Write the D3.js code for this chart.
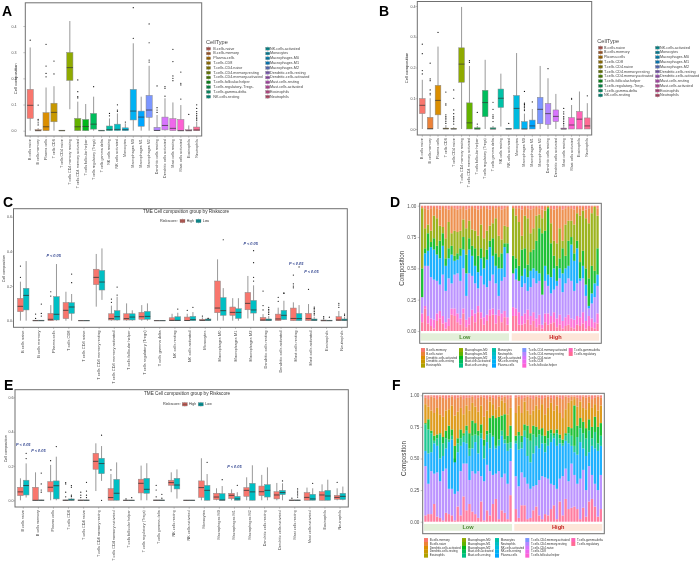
<!DOCTYPE html>
<html><head><meta charset="utf-8">
<script src="https://cdn.jsdelivr.net/npm/d3@7/dist/d3.min.js"></script>
<style>
html,body{margin:0;padding:0;background:#fff}
svg{display:block;filter:blur(0.3px);font-family:"Liberation Sans",Arial,sans-serif}
</style></head><body>
<script>
// ---------- categories ----------
const cells = ["B cells naive","B cells memory","Plasma cells","T cells CD8","T cells CD4 naive","T cells CD4 memory resting","T cells CD4 memory activated","T cells follicular helper","T cells regulatory (Tregs)","T cells gamma delta","NK cells resting","NK cells activated","Monocytes","Macrophages M0","Macrophages M1","Macrophages M2","Dendritic cells resting","Dendritic cells activated","Mast cells resting","Mast cells activated","Eosinophils","Neutrophils"];
const legendDotted = ["B.cells.naive","B.cells.memory","Plasma.cells","T.cells.CD8","T.cells.CD4.naive","T.cells.CD4.memory.resting","T.cells.CD4.memory.activated","T.cells.follicular.helper","T.cells.regulatory..Tregs.","T.cells.gamma.delta","NK.cells.resting","NK.cells.activated","Monocytes","Macrophages.M0","Macrophages.M1","Macrophages.M2","Dendritic.cells.resting","Dendritic.cells.activated","Mast.cells.resting","Mast.cells.activated","Eosinophils","Neutrophils"];
const legendAlpha = ["B.cells.memory","B.cells.naive","Dendritic.cells.activated","Dendritic.cells.resting","Eosinophils","Macrophages.M0","Macrophages.M1","Macrophages.M2","Mast.cells.activated","Mast.cells.resting","Monocytes","Neutrophils","NK.cells.activated","NK.cells.resting","Plasma.cells","T.cells.CD4.memory.activated","T.cells.CD4.memory.resting","T.cells.CD4.naive","T.cells.CD8","T.cells.follicular.helper","T.cells.gamma.delta","T.cells.regulatory"];
const boxTicks = [0,0.1,0.2,0.3,0.4];
const groupTicks = [0,0.2,0.4,0.6];
const stackTicks = [0,0.25,0.5,0.75,1];
const riskGroups = ["High","Low"];

// ---------- box statistics: [low whisker, q1, median, q3, high whisker, outliers] ----------
const statsA = [
[0,.047,.097,.158,.318,[.346]],[0,0,0,.004,.01,[.098,.043,.038,.03,.022]],[0,0,.015,.069,.165,[.33,.247,.219,.206]],[0,.034,.07,.105,.17,[.266,.217]],[0,0,0,.002,.002,[]],
[.082,.192,.241,.299,.419,[]],[0,0,.015,.047,.111,[.194,.149,.13,.125]],[0,0,.016,.043,.102,[]],[0,.006,.025,.066,.13,[.168]],[0,0,0,.002,.002,[]],
[0,0,.004,.018,.047,[.066,.057]],[0,0,.005,.025,.066,[.099,.079,.074]],[0,0,.004,.011,.028,[.033]],[0,.041,.075,.158,.334,[.47,.353]],[0,.017,.052,.075,.13,[]],
[0,.051,.079,.135,.248,[.408,.336,.27,.262]],[0,0,.001,.013,.06,[.171,.088,.079,.07]],[0,.003,.02,.052,.124,[.168,.162,.132]],[0,0,.009,.046,.108,[.311,.264,.209,.2,.191]],[0,0,0,.043,.098,[.224,.181,.175,.121]],
[0,0,0,.004,.02,[.062]],[0,0,.003,.014,.035,[.099,.085,.073,.065,.058,.052,.046,.04]]];
const statsB = [
[0,.05,.077,.099,.16,[.276,.245,.19,.179]],[0,0,.001,.038,.1,[.214,.163,.157,.127,.116,.111]],[0,.046,.093,.142,.268,[.314]],[0,0,.001,.003,.013,[.12,.082,.078,.046,.04,.035,.03,.024,.018]],[0,0,0,.002,.006,[.127,.1,.062,.05,.04,.035,.03,.024,.016]],
[0,.152,.211,.264,.397,[]],[0,0,.02,.085,.205,[.222,.217]],[0,0,0,.004,.01,[.054,.016]],[0,.04,.086,.126,.225,[]],[0,0,0,.004,.01,[.087,.064,.046,.04,.035,.024]],
[.008,.07,.1,.13,.18,[]],[0,0,0,.002,.002,[.018]],[0,0,.067,.109,.247,[]],[0,0,0,.024,.05,[.122,.084,.08,.075,.071,.065,.06]],[0,0,.01,.029,.065,[.088]],
[0,.017,.064,.103,.205,[]],[0,.015,.05,.083,.165,[.196]],[0,.024,.041,.062,.114,[]],[0,0,0,.003,.01,[.067,.056,.049,.04,.035,.03,.024,.018,.013]],[0,0,.013,.037,.078,[.1,.097]],
[0,0,.032,.057,.122,[]],[0,0,.01,.036,.084,[.108]]];
const statsCHigh = [
[0,.052,.083,.129,.225,[.315,.25]],[0,0,0,.003,.004,[.038,.013]],[0,0,.008,.042,.09,[.167,.142]],[0,.012,.06,.105,.167,[]],[0,0,0,.002,.002,[]],
[.081,.208,.25,.297,.385,[]],[0,.004,.012,.04,.087,[.125,.106]],[0,.004,.012,.04,.1,[]],[0,.008,.023,.048,.09,[]],[0,0,0,.002,.002,[]],
[0,0,.002,.017,.04,[]],[0,0,.001,.021,.04,[.06]],[0,0,.002,.008,.019,[.027]],[0,.046,.073,.229,.354,[]],[0,.031,.048,.079,.13,[]],
[.013,.063,.1,.163,.258,[]],[0,0,.004,.019,.038,[.171,.087,.062]],[0,0,.01,.038,.075,[.135,.112]],[0,0,.013,.073,.106,[.263,.213,.2,.19]],[0,0,.012,.042,.096,[.181]],
[0,0,0,.004,.012,[.023,.015]],[0,0,.004,.023,.056,[.1,.09,.077]]];
const statsCLow = [
[0,.062,.146,.187,.344,[]],[0,0,0,.003,.004,[.096,.042,.027]],[0,.004,.037,.139,.327,[]],[0,.042,.079,.104,.154,[.269,.219]],[0,0,0,.002,.002,[]],
[.12,.177,.223,.29,.417,[]],[0,.004,.023,.058,.138,[.194,.148]],[0,.004,.021,.04,.06,[]],[0,.008,.025,.054,.1,[]],[0,0,0,.002,.002,[]],
[0,0,.002,.023,.046,[.067]],[0,0,.006,.025,.05,[.077]],[0,0,.004,.01,.017,[.013]],[0,.031,.058,.133,.188,[.467]],[0,.013,.048,.069,.13,[]],
[0,.044,.062,.117,.204,[.404,.335,.25,.229]],[0,0,.004,.01,.027,[.077,.065,.056,.046,.036]],[.004,.006,.031,.06,.115,[.16,.157]],[0,0,.012,.042,.09,[.31]],[0,0,.004,.01,.023,[.079,.071,.062,.052,.042,.033]],
[0,0,0,.003,.004,[.02]],[0,0,.004,.01,.023,[.038,.031]]];
const statsEHigh = [
[0,.027,.049,.076,.128,[]],[0,0,0,.076,.163,[]],[0,.049,.076,.109,.206,[.231]],[0,0,0,.002,.003,[.103,.095,.047,.02]],[0,0,0,.002,.003,[.047,.03,.016]],
[.054,.181,.227,.274,.332,[]],[0,0,.016,.068,.153,[.177]],[0,0,0,.001,.002,[.008]],[0,.043,.099,.123,.202,[]],[0,0,0,.002,.003,[.087,.06,.02]],
[.047,.087,.103,.117,.163,[]],[0,0,0,.001,.002,[]],[0,.017,.074,.113,.245,[]],[0,.004,.019,.041,.07,[]],[0,.01,.029,.041,.064,[]],
[0,.023,.058,.074,.134,[]],[0,.027,.05,.083,.148,[]],[0,.008,.031,.05,.101,[]],[0,0,0,.002,.003,[.012]],[0,0,.017,.045,.074,[]],
[0,0,.031,.05,.093,[]],[0,.006,.017,.029,.07,[.105]]];
const statsELow = [
[.016,.031,.086,.117,.215,[.274,.243]],[0,0,0,.002,.003,[.159,.095,.06,.047]],[0,.008,.085,.113,.254,[.313]],[0,0,.002,.008,.012,[.085,.076,.03,.021]],[0,0,0,.002,.003,[.105,.054,.03,.016]],
[.113,.155,.214,.245,.316,[.379,0]],[0,0,.041,.122,.221,[]],[0,0,0,.001,.002,[.015]],[0,.041,.064,.128,.216,[]],[0,0,0,.002,.003,[.035,.012]],
[.01,.066,.089,.128,.18,[]],[0,0,0,.001,.002,[]],[0,0,.058,.087,.153,[.221]],[0,0,.002,.039,.083,[.12]],[0,0,.008,.023,.047,[.087]],
[0,0,.049,.099,.204,[]],[0,.019,.058,.091,.192,[]],[0,.033,.045,.058,.099,[.113]],[0,0,0,.002,.003,[.066,.054,.043,.031,.019]],[0,0,.008,.035,.07,[.099]],
[0,0,.025,.058,.12,[]],[0,.004,.023,.041,.08,[]]];

// ---------- significance labels: [category, height of the label] ----------
const sigC = [["Plasma cells",.372],["Macrophages M2",.442],["Mast cells resting",.329],["Mast cells activated",.279]];
const sigE = [["B cells naive",.325],["B cells memory",.288],["Macrophages M1",.194]];

// ---------- stacked composition: cumulative tops per sample, one array per layer, bottom to top ----------
const lowSamples = d3.range(1,31).map(d=>"L"+d), highSamples = d3.range(1,31).map(d=>"H"+d);
const layersD = ["T.cells.regulatory","T.cells.follicular.helper","T.cells.CD4.memory.resting","Plasma.cells","Macrophages.M2","Macrophages.M0","B.cells.naive"];
const layersF = ["T.cells.regulatory","T.cells.CD4.memory.resting","Plasma.cells","Mast.cells.resting","Macrophages.M2","Dendritic.cells.activated","B.cells.naive"];
const topsDLow = [
[.07,.18,.06,.04,.02,.08,.10,.06,.02,.04,.13,.12,.07,.05,.14,.03,.05,.12,.07,.15,.10,.05,.08,.12,.13,.06,.12,.07,.11,.05],
[.14,.20,.12,.10,.09,.14,.16,.12,.07,.10,.18,.18,.14,.10,.18,.09,.11,.17,.14,.20,.15,.11,.13,.17,.18,.13,.17,.14,.16,.11],
[.27,.52,.52,.43,.41,.40,.37,.45,.32,.42,.38,.45,.46,.40,.50,.28,.46,.44,.38,.34,.44,.37,.35,.40,.45,.38,.28,.40,.43,.62],
[.27,.62,.64,.67,.65,.61,.58,.68,.52,.58,.61,.56,.57,.60,.65,.46,.65,.60,.52,.47,.58,.50,.57,.67,.60,.52,.50,.50,.67,.62],
[.50,.66,.78,.71,.74,.68,.72,.78,.58,.66,.68,.60,.62,.66,.75,.61,.74,.68,.66,.60,.66,.59,.65,.72,.74,.62,.59,.62,.70,.70],
[.98,.82,.85,.80,.92,.90,.84,.83,.74,.87,.78,.80,.79,.80,.89,.82,.88,.81,.80,.76,.85,.74,.80,.84,.86,.90,.76,.73,.84,.83],
[.99,.98,.97,.98,.99,.98,.97,.99,.98,.97,.99,.98,.97,.98,.99,.97,.98,.99,.98,.97,.98,.99,.98,.97,.99,.98,.99,.97,.98,.99]];
const topsDHigh = [
[.12,.12,.05,.05,.06,.09,.05,.08,.03,.05,.02,.07,.05,.06,.07,.03,.05,.02,.04,.05,.03,.02,.05,.04,.06,.02,.04,.03,.02,.06],
[.19,.18,.15,.12,.14,.17,.12,.15,.10,.13,.05,.14,.14,.12,.15,.10,.13,.08,.11,.13,.10,.09,.12,.11,.15,.08,.12,.10,.07,.14],
[.46,.41,.40,.35,.38,.32,.35,.42,.38,.40,.29,.40,.36,.30,.33,.36,.42,.31,.38,.42,.40,.32,.38,.40,.42,.28,.18,.22,.27,.36],
[.46,.50,.40,.44,.50,.43,.48,.50,.48,.46,.29,.52,.45,.43,.50,.40,.50,.46,.50,.52,.69,.56,.66,.42,.52,.37,.20,.30,.38,.45],
[.60,.58,.52,.65,.66,.53,.63,.65,.72,.82,.78,.80,.98,.70,.60,.52,.58,.66,.60,.72,.75,.62,.72,.55,.64,.50,.42,.52,.48,.66],
[.98,.92,.87,.76,.92,.90,.78,.82,.92,.93,.90,.96,.99,.86,.72,.70,.82,.72,.85,.88,.88,.85,.94,.92,.96,.90,.86,.94,.99,.92],
[.99,.98,.98,.97,.99,.98,.97,.98,.99,.98,.97,.99,1,.98,.97,.98,.99,.97,.98,.99,.98,.97,.99,.98,.99,.97,.98,.99,1,.98]];
const topsFLow = [
[.05,.06,.06,.14,.04,.03,.01,.07,.06,.05,.01,.12,.05,.20,.09,.14,.08,.06,.03,.16,.01,.09,.05,.14,.18,.02,.09,.07,.02,.21],
[.44,.30,.40,.38,.39,.32,.40,.42,.26,.26,.22,.24,.40,.46,.46,.33,.40,.38,.40,.36,.32,.45,.40,.37,.38,.40,.35,.38,.30,.48],
[.56,.54,.55,.62,.60,.50,.52,.58,.63,.65,.50,.55,.60,.63,.62,.52,.58,.63,.54,.66,.50,.63,.58,.67,.58,.60,.68,.62,.56,.58],
[.77,.73,.70,.64,.66,.69,.62,.66,.65,.68,.47,.62,.66,.68,.72,.58,.68,.69,.68,.70,.60,.69,.70,.68,.60,.65,.72,.65,.62,.63],
[.78,.81,.72,.68,.69,.70,.67,.72,.76,.73,.60,.66,.73,.70,.76,.70,.80,.78,.72,.77,.65,.72,.82,.84,.82,.83,.84,.85,.68,.76],
[.93,.91,.88,.86,.90,.85,.83,.88,.89,.92,.84,.87,.90,.85,.92,.88,.94,.91,.87,.92,.83,.88,.95,.93,.89,.91,.96,.94,.85,.90],
[.98,.97,.99,.98,.97,.99,.98,.97,.98,.99,.97,.98,.99,.97,.98,.98,.99,.97,.98,.99,.98,.97,.99,.98,.97,.99,.98,.99,.97,.98]];
const topsFHigh = [
[.10,.03,.13,.13,.02,.03,.09,.12,.05,.02,.06,.05,.10,.13,.02,.16,.05,.18,.10,.11,.12,.10,.02,.11,.04,.16,.18,.12,.04,.10],
[.36,.28,.39,.35,.30,.26,.28,.29,.33,.36,.35,.34,.30,.29,.26,.34,.36,.42,.32,.46,.37,.30,.34,.41,.25,.44,.37,.30,.25,.37],
[.62,.57,.58,.67,.52,.47,.54,.60,.58,.62,.55,.60,.63,.66,.60,.62,.60,.64,.62,.60,.55,.53,.63,.58,.52,.55,.60,.58,.56,.60],
[.64,.68,.63,.72,.66,.64,.69,.67,.69,.68,.62,.66,.70,.68,.70,.66,.62,.68,.70,.68,.60,.67,.74,.70,.66,.72,.66,.71,.62,.68],
[.68,.71,.68,.77,.76,.70,.76,.75,.73,.74,.68,.72,.73,.70,.73,.69,.65,.70,.75,.74,.92,.76,.82,.79,.74,.81,.75,.83,.75,.78],
[.86,.92,.86,.95,.88,.85,.88,.92,.89,.93,.85,.90,.94,.88,.92,.86,.82,.89,.94,.96,.97,.91,.95,.90,.89,.94,.90,.93,.88,.92],
[.98,.99,.97,.98,.99,.98,.97,.99,.98,.97,.98,.99,.98,.97,.99,.98,.97,.99,.98,.99,.99,.98,.97,.99,.98,.99,.97,.98,.99,.98]];

// ---------- drawing ----------
const W=699,H=562;
const svg=d3.select("body").append("svg").attr("width",W).attr("height",H).attr("viewBox",[0,0,W,H]);

// ggplot-style hue palette (polar LUV, L=65, C=100)
function hue(i,n){
  const a=(15+360*i/n)*Math.PI/180,L=65,u=100*Math.cos(a),v=100*Math.sin(a);
  const Y=Math.pow((L+16)/116,3),up=u/(13*L)+.19783,vp=v/(13*L)+.46832;
  const X=9*Y*up/(4*vp),Z=Y*(12-3*up-20*vp)/(4*vp);
  const g=c=>{c=Math.max(0,Math.min(1,c));return Math.round(255*(c<=.0031308?12.92*c:1.055*Math.pow(c,1/2.4)-.055));};
  return d3.rgb(g(3.2406*X-1.5372*Y-.4986*Z),g(-.9689*X+1.8758*Y+.0415*Z),g(.0557*X-.2040*Y+1.0570*Z)).formatHex();
}
const pal22=d3.range(22).map(i=>hue(i,22));
const GREY="#707070",TXT="#4d4d4d";

function frame(g,x0,y0,x1,y1){
  g.append("rect").attr("x",x0).attr("y",y0).attr("width",x1-x0).attr("height",y1-y0)
   .attr("fill","none").attr("stroke",GREY).attr("stroke-width",1);
}
function yAxis(g,scale,vals,fmt,axisX,labelEnd,fs){
  const ax=g.append("g").attr("transform",`translate(${axisX},0)`)
    .call(d3.axisLeft(scale).tickValues(vals).tickFormat(fmt).tickSize(Math.min(2,axisX-labelEnd)).tickPadding(Math.max(0,axisX-labelEnd-2)));
  ax.select(".domain").remove();
  ax.selectAll("line").attr("stroke",GREY).attr("stroke-width",.4);
  ax.selectAll("text").attr("font-size",fs).attr("fill",TXT);
}
function xAxis(g,scale,yPos,fs){
  const ax=g.append("g").attr("transform",`translate(0,${yPos})`)
    .call(d3.axisBottom(scale).tickSize(1.8).tickPadding(1));
  ax.select(".domain").remove();
  ax.selectAll("line").attr("stroke",GREY).attr("stroke-width",.4);
  ax.selectAll("text").attr("font-size",fs).attr("fill",TXT)
    .attr("text-anchor","end").attr("dominant-baseline","middle")
    .attr("transform","rotate(-90)").attr("x",-3.2).attr("y",0).attr("dy",0);
}
function drawBox(g,s,cx,bw,y,fill,mw){
  const [lo,q1,med,q3,hi,outs]=s;
  g.append("line").attr("x1",cx).attr("x2",cx).attr("y1",y(lo)).attr("y2",y(hi)).attr("stroke","#868686").attr("stroke-width",.85);
  g.append("rect").attr("x",cx-bw/2).attr("width",bw).attr("y",y(q3)).attr("height",Math.max(.3,y(q1)-y(q3)))
    .attr("fill",fill).attr("stroke","#8a8a8a").attr("stroke-width",.5);
  g.append("line").attr("x1",cx-bw/2).attr("x2",cx+bw/2).attr("y1",y(med)).attr("y2",y(med)).attr("stroke","#333").attr("stroke-width",mw);
  g.selectAll(null).data(outs).join("circle").attr("cx",cx).attr("cy",d=>y(d)).attr("r",.62).attr("fill","#111");
}
function singleBoxPanel(o){
  const g=svg.append("g");
  const step=(o.xLast-o.xFirst)/(cells.length-1);
  const x=d3.scaleBand().domain(cells).range([o.xFirst-step/2,o.xLast+step/2]);
  const y=d3.scaleLinear().domain([0,.4]).range([o.y0,o.y4]);
  yAxis(g,y,boxTicks,d3.format(".1f"),o.left,o.tickEnd,3.6);
  xAxis(g,x,o.bottom,3.7);
  cells.forEach((c,i)=>drawBox(g,o.stats[i],x(c)+x.bandwidth()/2,o.bw,y,pal22[i],.7));
  frame(g,o.left,o.top,o.right,o.bottom);
  g.append("text").attr("transform",`translate(${o.titleX},${(o.y0+o.y4)/2+.5}) rotate(-90)`).attr("text-anchor","middle").attr("font-size",4.2).attr("fill","#333").text("Cell composition");
  // legend
  g.append("text").attr("x",o.legX).attr("y",o.legY).attr("font-size",5.6).attr("fill","#444").text("CellType");
  legendDotted.forEach((t,i)=>{
    const col=i<11?0:1,row=i%11,ky=o.legRow+row*o.legStep;
    const kx=o.legKey[col];
    const kg=g.append("g");
    kg.append("line").attr("x1",kx+2).attr("x2",kx+2).attr("y1",ky-2.2).attr("y2",ky+2.2).attr("stroke","#777").attr("stroke-width",.4);
    kg.append("rect").attr("x",kx).attr("y",ky-1.4).attr("width",4).attr("height",2.8).attr("fill",d3.color(pal22[i]).darker(.7)).attr("stroke","#777").attr("stroke-width",.3);
    kg.append("line").attr("x1",kx).attr("x2",kx+4).attr("y1",ky).attr("y2",ky).attr("stroke","#333").attr("stroke-width",.4);
    g.append("text").attr("x",o.legTxt[col]).attr("y",ky).attr("dominant-baseline","middle").attr("font-size",3.75).attr("fill","#444").text(t);
  });
}
function groupBoxPanel(o){
  const g=svg.append("g");
  const step=(o.xLast-o.xFirst)/(cells.length-1);
  const x=d3.scaleBand().domain(cells).range([o.xFirst-step/2,o.xLast+step/2]);
  const dodge=d3.scaleBand().domain(riskGroups).range([-o.bw,o.bw]);
  const y=d3.scaleLinear().domain([0,.6]).range([o.y0,o.y6]);
  const col={High:"#F8766D",Low:"#00BFC4"};
  yAxis(g,y,groupTicks,d3.format(".1f"),o.left,o.tickEnd,3.6);
  xAxis(g,x,o.bottom,o.labelSize);
  cells.forEach((c,i)=>{
    const cx=x(c)+x.bandwidth()/2;
    riskGroups.forEach(r=>{
      drawBox(g,(r==="High"?o.high:o.low)[i],cx+dodge(r)+o.bw/2,o.bw,y,col[r],.8);
    });
  });
  o.sig.forEach(([c,v])=>{
    g.append("text").attr("x",x(c)+x.bandwidth()/2).attr("y",y(v)).attr("text-anchor","middle").attr("dominant-baseline","middle")
     .attr("font-size",3.9).attr("font-weight","bold").attr("font-style","italic").attr("fill","#2b3f8c").text("P < 0.05");
  });
  frame(g,o.left,o.top,o.right,o.bottom);
  g.append("text").attr("x",o.titleX).attr("y",o.titleY).attr("font-size",4.65).attr("fill","#333").attr("dominant-baseline","middle").text("TME Cell composition group by Riskscore");
  g.append("text").attr("transform",`translate(${o.yTitleX},${(o.y0+o.y6)/2}) rotate(-90)`).attr("text-anchor","middle").attr("font-size",3.7).attr("fill","#333").text("Cell composition");
  g.append("text").attr("x",o.legX).attr("y",o.legY).attr("font-size",3.8).attr("fill","#333").attr("dominant-baseline","middle").text("Riskscore:");
  riskGroups.forEach((r,i)=>{
    const kx=o.keyX[i];
    g.append("line").attr("x1",kx+2.5).attr("x2",kx+2.5).attr("y1",o.legY-2.4).attr("y2",o.legY+2.4).attr("stroke","#777").attr("stroke-width",.4);
    g.append("rect").attr("x",kx).attr("y",o.legY-1.7).attr("width",5).attr("height",3.4).attr("fill",d3.color(col[r]).darker(.6)).attr("stroke","#777").attr("stroke-width",.3);
    g.append("line").attr("x1",kx).attr("x2",kx+5).attr("y1",o.legY).attr("y2",o.legY).attr("stroke","#333").attr("stroke-width",.4);
    g.append("text").attr("x",o.keyTxt[i]).attr("y",o.legY).attr("dominant-baseline","middle").attr("font-size",3.5).attr("fill","#333").text(r);
  });
}
function stackPanel(o){
  const g=svg.append("g");
  const y=d3.scaleLinear().domain([0,1]).range([o.y0,o.y1]);
  const color=name=>pal22[legendAlpha.indexOf(name)];
  const facet=(samples,tops,x0,x1,label,stripFill,txtFill)=>{
    const x=d3.scaleBand().domain(samples).range([x0,x1]).paddingInner(.2).paddingOuter(.1);
    const bars=g.append("g").attr("fill-opacity",.88);
    samples.forEach((s,j)=>{
      let prev=0;
      o.layers.forEach((name,k)=>{
        const t=tops[k][j];
        bars.append("rect").attr("x",x(s)).attr("width",x.bandwidth()).attr("y",y(t)).attr("height",y(prev)-y(t)).attr("fill",color(name));
        prev=t;
      });
      bars.append("rect").attr("x",x(s)).attr("width",x.bandwidth()).attr("y",y(1)).attr("height",y(prev)-y(1)).attr("fill",color("B.cells.memory"));
    });
    g.append("rect").attr("x",x0).attr("width",x1-x0).attr("y",o.stripTop).attr("height",o.stripH).attr("fill",stripFill);
    g.append("text").attr("x",(x0+x1)/2).attr("y",o.stripTop+o.stripH/2+.2).attr("text-anchor","middle").attr("dominant-baseline","middle")
     .attr("font-size",5.6).attr("font-weight","bold").attr("fill",txtFill).text(label);
  };
  facet(lowSamples,o.low,o.lowX[0],o.lowX[1],"Low","#e3efd9","#4c8a33");
  facet(highSamples,o.high,o.highX[0],o.highX[1],"High","#fde6d9","#c4221f");
  yAxis(g,y,stackTicks,d3.format(".2f"),o.left,o.left-3.4,4.6);
  frame(g,o.left,o.top,o.right,o.bottom);
  g.append("text").attr("transform",`translate(${o.titleX},${(o.y0+o.y1)/2}) rotate(-90)`).attr("text-anchor","middle").attr("font-size",6.3).attr("fill","#333").text("Composition");
  legendAlpha.forEach((t,i)=>{
    const col=Math.floor(i/5),row=i%5;
    const ky=o.legRow+row*o.legStep;
    g.append("rect").attr("x",o.legKey[col]).attr("y",ky-o.legStep/2).attr("width",4).attr("height",o.legStep+.1).attr("fill",pal22[i]);
    g.append("text").attr("x",o.legTxt[col]).attr("y",ky).attr("dominant-baseline","middle").attr("font-size",2.95).attr("fill","#333").text(t);
  });
}

singleBoxPanel({stats:statsA,xFirst:30.2,xLast:196.7,y0:130.7,y4:26,left:25.3,right:201.7,top:2.8,bottom:136,tickEnd:16.5,bw:6.2,titleX:16.5,
  legX:206,legY:43.5,legRow:48.7,legStep:4.8,legKey:[206.5,265.7],legTxt:[213.3,270]});
singleBoxPanel({stats:statsB,xFirst:422.3,xLast:587.3,y0:129,y4:6,left:417.3,right:591.7,top:1.5,bottom:135,tickEnd:415.5,bw:5.7,titleX:408,
  legX:597.3,legY:42.8,legRow:47.7,legStep:4.77,legKey:[598.5,655.5],legTxt:[604,660]});
groupBoxPanel({high:statsCHigh,low:statsCLow,sig:sigC,labelSize:4,xFirst:23.3,xLast:341.7,y0:320.7,y6:216.7,left:13.5,right:347.3,top:208.7,bottom:327.3,tickEnd:12,bw:5.7,
  titleX:143,titleY:212,yTitleX:4.5,legX:160,legY:221,keyX:[180,196],keyTxt:[186.7,202.7]});
groupBoxPanel({high:statsEHigh,low:statsELow,sig:sigE,labelSize:3.8,xFirst:23.3,xLast:340,y0:500.3,y6:397.3,left:15,right:348.3,top:389.7,bottom:507,tickEnd:13.5,bw:5.7,
  titleX:144,titleY:393.3,yTitleX:6.5,legX:163,legY:404.3,keyX:[182.3,198.3],keyTxt:[189,205.3]});
stackPanel({layers:layersD,low:topsDLow,high:topsDHigh,y0:331,y1:205.7,left:419.7,right:601.3,top:203.3,bottom:343.3,lowX:[420.7,509],highX:[511.7,599],
  stripTop:333.3,stripH:7.4,titleX:403.5,legRow:350,legStep:3.9,legKey:[421,459,492,522.3,568.7],legTxt:[426.3,464.7,497.7,528.3,574]});
stackPanel({layers:layersF,low:topsFLow,high:topsFHigh,y0:521.7,y1:395.3,left:422.7,right:604.3,top:393.3,bottom:533.7,lowX:[424,512],highX:[514.3,602.3],
  stripTop:524,stripH:6.8,titleX:406,legRow:540,legStep:3.9,legKey:[424,462,495,525.3,571.3],legTxt:[429.7,467.7,500.7,531,577]});

const letters=[["A",2,16],["B",379,16],["C",3,207],["D",390,207],["E",4,390],["F",392,390]];
svg.selectAll("text.panel").data(letters).join("text").attr("class","panel")
  .attr("x",d=>d[1]).attr("y",d=>d[2]).attr("font-size",14).attr("font-weight","bold").attr("fill","#000").text(d=>d[0]);
</script>
</body></html>
